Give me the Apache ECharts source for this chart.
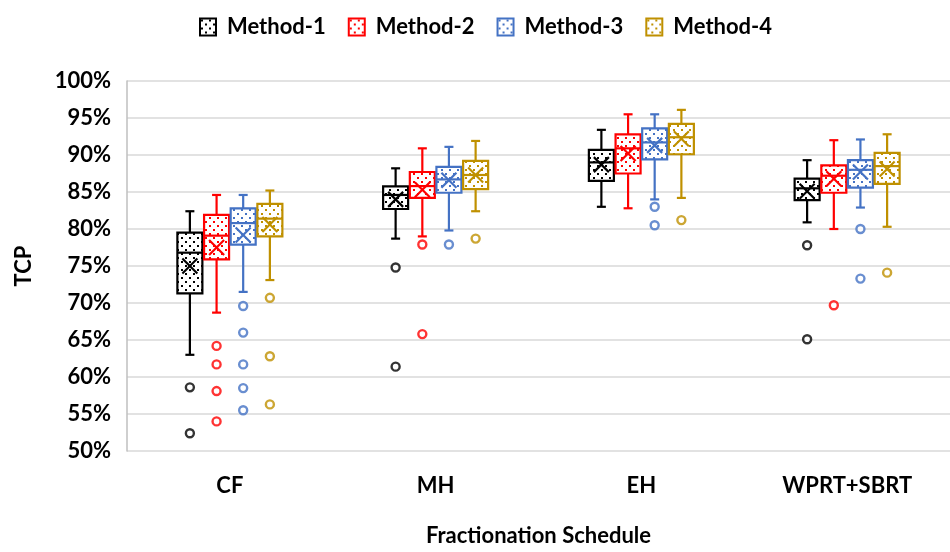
<!DOCTYPE html>
<html>
<head>
<meta charset="utf-8">
<script src="https://cdn.jsdelivr.net/npm/echarts@6/dist/echarts.min.js"></script>
<style>
  html, body { margin: 0; padding: 0; background: #fff; }
  #chart { width: 950px; height: 552px; }
</style>
</head>
<body>
<div id="chart"></div>
<script>
  var categories = ['CF', 'MH', 'EH', 'WPRT+SBRT'];
  var methods = ['Method-1', 'Method-2', 'Method-3', 'Method-4'];
  var colors = ['#000000', '#ff0000', '#4472c4', '#bf9000'];

  // box stats per schedule (TCP %)
  var min1 = [63.0, 78.7, 83.0, 80.9];
  var q1_1 = [71.3, 82.7, 86.5, 83.9];
  var med1 = [76.8, 84.6, 89.0, 85.5];
  var q3_1 = [79.5, 85.75, 90.7, 86.8];
  var max1 = [82.4, 88.2, 93.4, 89.3];
  var mean1 = [75.0, 84.0, 88.7, 85.1];

  var min2 = [68.7, 79.0, 82.8, 80.0];
  var q1_2 = [75.9, 84.2, 87.5, 84.9];
  var med2 = [79.1, 85.8, 90.9, 87.2];
  var q3_2 = [81.9, 87.7, 92.8, 88.6];
  var max2 = [84.6, 90.9, 95.5, 92.0];
  var mean2 = [77.5, 85.3, 90.2, 86.8];

  var min3 = [71.5, 79.8, 84.0, 82.9];
  var q1_3 = [77.9, 84.9, 89.4, 85.6];
  var med3 = [80.8, 86.7, 91.7, 88.0];
  var q3_3 = [82.8, 88.4, 93.6, 89.3];
  var max3 = [84.6, 91.1, 95.5, 92.1];
  var mean3 = [79.2, 86.6, 91.3, 87.7];

  var min4 = [73.1, 82.4, 84.2, 80.3];
  var q1_4 = [79.0, 85.4, 90.1, 86.1];
  var med4 = [81.4, 87.3, 92.4, 88.5];
  var q3_4 = [83.4, 89.2, 94.2, 90.3];
  var max4 = [85.2, 91.9, 96.1, 92.8];
  var mean4 = [80.6, 87.3, 92.2, 88.1];

  // outliers: [schedule index, TCP %]
  var out1 = [[0, 58.6], [0, 52.4], [1, 74.8], [1, 61.4], [3, 77.8], [3, 65.1]];
  var out2 = [[0, 64.2], [0, 61.7], [0, 58.1], [0, 54.0], [1, 77.9], [1, 65.8], [3, 69.7]];
  var out3 = [[0, 69.6], [0, 66.0], [0, 61.7], [0, 58.5], [0, 55.5], [1, 77.9], [2, 83.0], [2, 80.5], [3, 80.0], [3, 73.3]];
  var out4 = [[0, 70.7], [0, 62.8], [0, 56.3], [1, 78.7], [2, 81.2], [3, 74.1]];

  var stats = [
    [min1, q1_1, med1, q3_1, max1, mean1],
    [min2, q1_2, med2, q3_2, max2, mean2],
    [min3, q1_3, med3, q3_3, max3, mean3],
    [min4, q1_4, med4, q3_4, max4, mean4]
  ];
  var outliers = [out1, out2, out3, out4];
  var offsets = [-40, -13.3, 13.3, 40];

  // 点状填充
  function dotPattern(color) {
    var c = document.createElement('canvas');
    c.width = 8; c.height = 8;
    var ctx = c.getContext('2d');
    ctx.fillStyle = '#fff';
    ctx.fillRect(0, 0, 8, 8);
    ctx.fillStyle = color;
    ctx.fillRect(1, 1, 2, 2);
    ctx.fillRect(5, 5, 2, 2);
    return { image: c, repeat: 'repeat' };
  }

  function boxRenderer(offset, color, pattern) {
    return function (params, api) {
      var c = api.value(0);
      var pt = function (i) { return api.coord([c, api.value(i)]); };
      var lo = pt(1), q1 = pt(2), md = pt(3), q3 = pt(4), hi = pt(5), mn = pt(6);
      var x = lo[0] + offset;
      var hw = 12.5, cap = 4.5, xs = 7.5;
      var ln = function (x1, y1, x2, y2) {
        return { type: 'line', shape: { x1: x1, y1: y1, x2: x2, y2: y2 }, style: { stroke: color, lineWidth: 2.2 } };
      };
      return {
        type: 'group',
        children: [
          ln(x, hi[1], x, q3[1]),
          ln(x, q1[1], x, lo[1]),
          ln(x - cap, hi[1], x + cap, hi[1]),
          ln(x - cap, lo[1], x + cap, lo[1]),
          { type: 'rect', shape: { x: x - hw, y: q3[1], width: hw * 2, height: q1[1] - q3[1] },
            style: { fill: pattern, stroke: color, lineWidth: 2.2 } },
          ln(x - hw, md[1], x + hw, md[1]),
          ln(x - xs, mn[1] - xs, x + xs, mn[1] + xs),
          ln(x - xs, mn[1] + xs, x + xs, mn[1] - xs)
        ]
      };
    };
  }

  var series = [];
  var legendData = [];
  methods.forEach(function (name, i) {
    var pattern = dotPattern(colors[i]);
    var s = stats[i];
    var data = categories.map(function (cat, k) {
      return [k, s[0][k], s[1][k], s[2][k], s[3][k], s[4][k], s[5][k]];
    });
    series.push({
      name: name,
      type: 'custom',
      renderItem: boxRenderer(offsets[i], colors[i], pattern),
      encode: { x: 0, y: [1, 2, 3, 4, 5, 6] },
      itemStyle: { color: pattern, borderColor: colors[i], borderWidth: 2 },
      data: data,
      z: 3
    });
    series.push({
      name: name,
      type: 'scatter',
      symbol: 'circle',
      symbolSize: 8,
      symbolOffset: [offsets[i], 0],
      itemStyle: { color: '#fff', borderColor: colors[i], borderWidth: 2.4 },
      data: outliers[i],
      z: 4
    });
    legendData.push({
      name: name,
      icon: 'rect',
      itemStyle: { color: pattern, borderColor: colors[i], borderWidth: 2 }
    });
  });

  var chart = echarts.init(document.getElementById('chart'));
  var option = {
    backgroundColor: '#fff',
    animation: false,
    textStyle: { fontFamily: 'Lato', fontWeight: 'bold', color: '#000' },
    legend: {
      data: legendData,
      left: 194,
      top: 11,
      itemWidth: 16,
      itemHeight: 17,
      itemGap: 22,
      textStyle: { fontFamily: 'Lato', fontWeight: 'bold', fontSize: 22, color: '#000', padding: [0, 0, 0, 6] }
    },
    grid: { left: 127, width: 834, top: 81, bottom: 94 },
    xAxis: {
      type: 'category',
      data: categories,
      name: 'Fractionation Schedule',
      nameLocation: 'middle',
      nameGap: 74,
      nameTextStyle: { fontFamily: 'Lato', fontWeight: 'bold', fontSize: 22, color: '#000' },
      axisLine: { show: false },
      axisTick: { show: false },
      axisLabel: { margin: 24, fontFamily: 'Lato', fontWeight: 'bold', fontSize: 22, color: '#000' },
      splitLine: { show: false }
    },
    yAxis: {
      type: 'value',
      min: 50,
      max: 100,
      interval: 5,
      name: 'TCP',
      nameLocation: 'middle',
      nameGap: 92,
      nameTextStyle: { fontFamily: 'Lato', fontWeight: 'bold', fontSize: 22, color: '#000' },
      axisLine: { show: true, lineStyle: { color: '#bfbfbf', width: 1.5 } },
      axisTick: { show: false },
      axisLabel: { margin: 16, formatter: '{value}%', fontFamily: 'Lato', fontWeight: 'bold', fontSize: 22, color: '#000' },
      splitLine: { lineStyle: { color: '#d9d9d9', width: 1.5 } }
    },
    series: series
  };
  chart.setOption(option);
</script>
</body>
</html>
